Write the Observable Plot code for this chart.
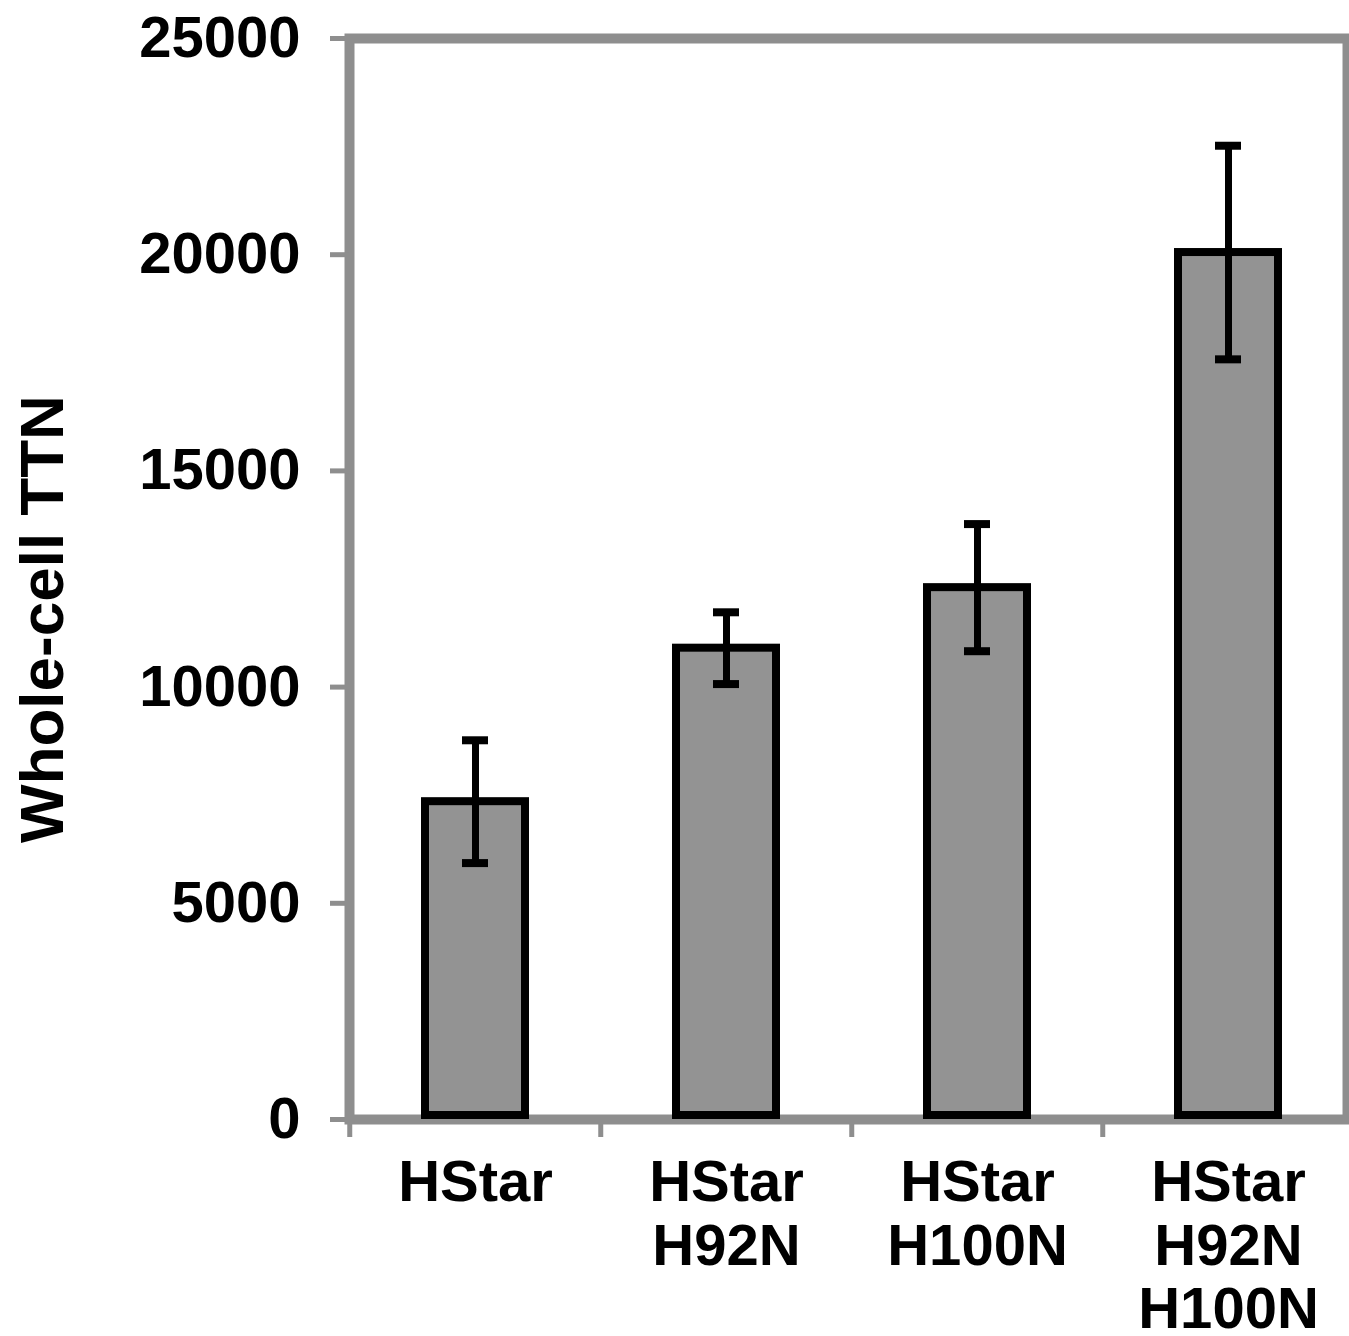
<!DOCTYPE html>
<html>
<head>
<meta charset="utf-8">
<script src="https://cdn.jsdelivr.net/npm/d3@7"></script>
<script src="https://cdn.jsdelivr.net/npm/@observablehq/plot@0.6"></script>
<style>
  html, body { margin: 0; padding: 0; background: #fff; }
  #chart { width: 1349px; height: 1336px; overflow: hidden; }
</style>
</head>
<body>
<div id="chart"></div>
<script>
const categories = ["HStar", "HStar H92N", "HStar H100N", "HStar H92N H100N"];
const tickLabels = ["HStar", "HStar\nH92N", "HStar\nH100N", "HStar\nH92N\nH100N"];
const means = [7350, 10900, 12300, 20050];
const errors = [1420, 830, 1470, 2470];
const yTicks = [0, 5000, 10000, 15000, 20000, 25000];
const yLabel = "Whole-cell TTN";

const data = categories.map((c, i) => ({cat: c, mean: means[i], err: errors[i], label: tickLabels[i]}));

const W = 1349, H = 1336;
const left = 349, xEnd = 1355;
const step = (xEnd - left) / categories.length;
const gray = "#8e8e8e";
const font = "'Liberation Sans', Arial, Helvetica, sans-serif";

const chart = Plot.plot({
  width: W,
  height: H,
  marginLeft: left,
  marginRight: 2,
  marginTop: 38,
  marginBottom: 217,
  style: {fontFamily: font, fontWeight: "bold", fontSize: "58px", color: "#000", background: "#fff"},
  x: {domain: categories, range: [left, xEnd], paddingInner: 0.6, paddingOuter: 0.3},
  y: {domain: [0, 25000], ticks: yTicks},
  marks: [
    Plot.frame({stroke: gray, strokeWidth: 10}),
    Plot.axisY({ticks: yTicks, tickSize: 19, tickPadding: 30, stroke: gray, strokeWidth: 5,
      fill: "#000", fontSize: 58, fontWeight: "bold", label: null, tickFormat: d3.format("d")}),
    Plot.axisX({ticks: categories, tickSize: 18, dx: -step / 2, stroke: gray, strokeWidth: 5,
      tickFormat: () => "", label: null}),
    Plot.axisX({ticks: categories, tickSize: 0, tickPadding: 36, fill: "#000",
      fontSize: 58, fontWeight: "bold", lineHeight: 1.1,
      tickFormat: (d) => tickLabels[categories.indexOf(d)], label: null}),
    Plot.barY(data, {x: "cat", y: "mean", fill: "#939393", stroke: "#000", strokeWidth: 8, insetBottom: 4}),
    Plot.ruleX(data, {x: "cat", y1: (d) => d.mean - d.err, y2: (d) => d.mean + d.err, stroke: "#000", strokeWidth: 7}),
    Plot.tickY(data, {x: "cat", y: (d) => d.mean + d.err, stroke: "#000", strokeWidth: 8, insetLeft: 37, insetRight: 37}),
    Plot.tickY(data, {x: "cat", y: (d) => d.mean - d.err, stroke: "#000", strokeWidth: 8, insetLeft: 37, insetRight: 37}),
    Plot.text([yLabel], {frameAnchor: "left", text: (d) => d, rotate: -90, dx: -306, dy: 40,
      fontSize: 62, fontWeight: "bold", fill: "#000", lineAnchor: "middle", textAnchor: "middle"})
  ]
});
document.getElementById("chart").appendChild(chart);
</script>
</body>
</html>
